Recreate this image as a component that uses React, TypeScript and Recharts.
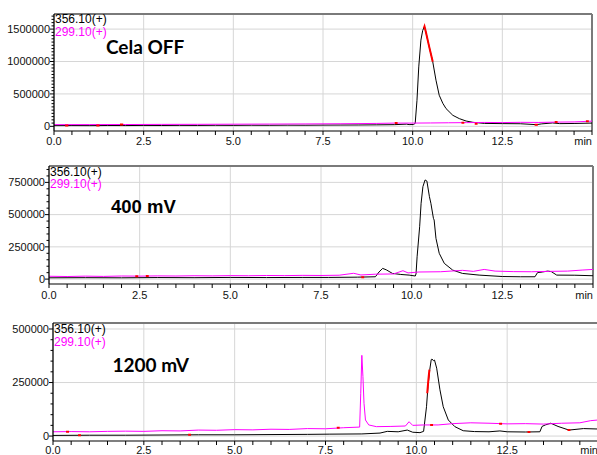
import React from "react";
import { LineChart, Line, XAxis, YAxis, ReferenceLine } from "recharts";

// ---------- Panel 1 (Cela OFF) ----------
const p1BlackT = [0, 0.5, 1, 1.5, 2, 2.5, 3, 3.5, 4, 4.5, 5, 5.5, 6, 6.5, 7, 7.5, 8, 8.5, 9, 9.5, 9.83, 9.9, 10.02, 10.07, 10.12, 10.17, 10.23, 10.28, 10.33, 10.37, 10.46, 10.56, 10.65, 10.74, 10.84, 10.93, 11.12, 11.3, 11.49, 11.68, 12, 12.5, 13, 13.45, 13.6, 13.9, 14.1, 14.5, 15];
const p1BlackV = [11000, 12000, 11000, 13000, 12000, 14000, 13000, 15000, 14000, 16000, 15000, 17000, 16000, 18000, 17000, 19000, 20000, 21000, 23000, 26000, 34000, 27000, 28000, 45000, 400000, 917000, 1330000, 1480000, 1540000, 1450000, 1230000, 995000, 712000, 480000, 356000, 274000, 170000, 119000, 82000, 62000, 45000, 42000, 40000, 26000, 38000, 52000, 42000, 44000, 50000];
const p1MagT = [0, 1, 2, 3, 4, 5, 6, 7, 8, 9, 9.5, 10, 10.5, 11, 11.5, 12, 12.5, 13, 13.5, 14, 14.5, 15];
const p1MagV = [26000, 27000, 28000, 30000, 31000, 33000, 35000, 37000, 40000, 45000, 50000, 50000, 52000, 55000, 57000, 60000, 58000, 62000, 60000, 65000, 68000, 80000];
const p1RedT = [10.31, 10.33, 10.37, 10.46, 10.56, 10.6, 0.31, 0.4, 0.45, 1.18, 1.27, 1.3, 1.84, 1.93, 1.96, 9.5, 9.58, 9.6, 11.36, 11.44, 11.5, 11.73, 11.81, 11.85, 13.4, 13.49, 13.55, 13.96, 14.04, 14.1, 14.83, 14.91];
const p1RedV = [1510000, 1540000, 1450000, 1230000, 995000, null, 11000, 11000, null, 12000, 12000, null, 28000, 28000, null, 50000, 50000, null, 57000, 57000, null, 40000, 40000, null, 26000, 26000, null, 65000, 65000, null, 80000, 80000];

// ---------- Panel 2 (400 mV) ----------
const p2BlackT = [0, 1, 2, 3, 4, 5, 6, 7, 7.7, 8.5, 9.0, 9.1, 9.2, 9.3, 9.47, 9.7, 9.93, 10.1, 10.12, 10.15, 10.22, 10.26, 10.31, 10.37, 10.42, 10.49, 10.53, 10.6, 10.62, 10.67, 10.76, 10.9, 11.13, 11.4, 11.86, 12.5, 13, 13.4, 13.47, 13.6, 13.75, 13.85, 14.0, 14.5, 15];
const p2BlackV = [10000, 11000, 10000, 12000, 11000, 13000, 12000, 13000, 13000, 15000, 18000, 55000, 83000, 72000, 44000, 36000, 31000, 24000, 40000, 173000, 406000, 588000, 717000, 769000, 760000, 639000, 588000, 471000, 458000, 316000, 200000, 122000, 70000, 44000, 31000, 20000, 18000, 18000, 50000, 55000, 62000, 58000, 31000, 30000, 26000];
const p2MagT = [0, 0.5, 1, 1.5, 2, 2.5, 3, 3.5, 4, 4.5, 5, 5.5, 6, 6.5, 7, 7.5, 8, 8.4, 8.6, 9, 9.5, 9.76, 9.9, 10.2, 10.8, 11.4, 11.7, 12.0, 12.3, 12.8, 13.3, 13.8, 14.3, 14.7, 15];
const p2MagV = [22000, 20000, 23000, 21000, 24000, 23000, 25000, 24000, 26000, 25000, 27000, 26000, 28000, 27000, 29000, 28000, 30000, 45000, 32000, 38000, 40000, 65000, 48000, 55000, 57000, 68000, 60000, 75000, 62000, 58000, 57000, 60000, 62000, 70000, 75000];
const p2RedT = [2.38, 2.46, 2.5, 2.67, 2.75, 2.8, 8.61, 8.69];
const p2RedV = [23000, 23000, null, 24000, 24000, null, 15000, 15000];

// ---------- Panel 3 (1200 mV) ----------
const p3BlackT = [0, 1, 2, 3, 4, 5, 6, 7, 7.6, 8.5, 9.0, 9.2, 9.5, 9.75, 9.9, 10.1, 10.2, 10.28, 10.32, 10.37, 10.41, 10.43, 10.47, 10.5, 10.56, 10.65, 10.74, 10.88, 11.06, 11.29, 11.6, 12.0, 12.3, 12.5, 13.0, 13.4, 13.46, 13.55, 13.7, 13.9, 14.2, 14.6, 15];
const p3BlackV = [3000, 4000, 4000, 5000, 6000, 6000, 7000, 8000, 9000, 10000, 14000, 22000, 20000, 28000, 18000, 16000, 22000, 137000, 231000, 310000, 357000, 360000, 352000, 355000, 317000, 216000, 137000, 75000, 44000, 25000, 21000, 20000, 24000, 20000, 19000, 20000, 45000, 52000, 60000, 45000, 28000, 35000, 33000];
const p3MagT = [0, 0.5, 1, 1.5, 2, 2.5, 3, 3.5, 4, 4.5, 5, 5.5, 6, 6.5, 7, 7.5, 8, 8.44, 8.47, 8.5, 8.53, 8.56, 8.6, 8.69, 8.9, 9.3, 9.7, 9.8, 9.9, 10.2, 10.6, 11.0, 11.5, 12.0, 12.5, 13.0, 13.5, 14.0, 14.5, 14.8, 15];
const p3MagV = [20000, 21000, 20000, 22000, 23000, 22000, 25000, 24000, 28000, 27000, 30000, 29000, 32000, 31000, 35000, 34000, 39000, 42000, 200000, 377000, 278000, 153000, 75000, 52000, 44000, 45000, 47000, 67000, 50000, 52000, 52000, 58000, 62000, 60000, 57000, 58000, 56000, 60000, 62000, 72000, 75000];
const p3RedT = [0.36, 0.44, 0.5, 0.69, 0.77, 0.8, 3.72, 3.8, 3.85, 7.81, 7.89, 7.95, 10.3, 10.33, 10.36, 10.4, 10.38, 10.46, 10.5, 12.28, 12.36, 12.4, 13.06, 13.14, 13.2, 14.16, 14.24];
const p3RedV = [20000, 20000, null, 4000, 4000, null, 6000, 6000, null, 39000, 39000, null, 200000, 260000, 310000, null, 52000, 52000, null, 58000, 58000, null, 19000, 19000, null, 28000, 28000];

// ---------- Axis ticks / labels ----------
const xTicks = [0, 0.5, 1, 1.5, 2, 2.5, 3, 3.5, 4, 4.5, 5, 5.5, 6, 6.5, 7, 7.5, 8, 8.5, 9, 9.5, 10, 10.5, 11, 11.5, 12, 12.5, 13, 13.5, 14, 14.5, 15];
const xMajor = [0, 2.5, 5, 7.5, 10, 12.5, 15];
const xMajorLabels = ["0.0", "2.5", "5.0", "7.5", "10.0", "12.5", "min"];

const p1YMajor = [0, 500000, 1000000, 1500000];
const p2YMajor = [0, 250000, 500000, 750000];
const p3YMajor = [0, 250000, 500000];
const p1YMinorTop = 1700000;
const p2YMinorTop = 850000;
const p3YMinorTop = 500000;

const seriesNames = ["356.10(+)", "299.10(+)"];
const panelTitles = ["Cela OFF", "400 mV", "1200 mV"];

const toPts = (t: number[], v: (number | null)[]) => t.map((x, i) => ({ t: x, v: v[i] }));

const minorTicks = (top: number) => {
  const out: number[] = [];
  for (let k = 0; k <= top; k += 50000) out.push(k);
  return out;
};

const FONT = "'Liberation Sans', Arial, sans-serif";

const makeXTick = (labelOff: number) => (props: any) => {
  const { x, y, payload } = props;
  const v = payload.value;
  const idx = xMajor.findIndex((m) => Math.abs(m - v) < 1e-6);
  return (
    <g>
      <line x1={x} y1={y} x2={x} y2={y + 4} stroke="#000" strokeWidth={1} />
      {idx >= 0 && (
        <text
          x={idx === xMajor.length - 1 ? x : x}
          y={y + labelOff}
          dy="0.35em"
          textAnchor={idx === xMajor.length - 1 ? "end" : "middle"}
          fontSize={11}
          fontFamily={FONT}
          fill="#111"
        >
          {xMajorLabels[idx]}
        </text>
      )}
    </g>
  );
};

const makeYTick = (majors: number[]) => (props: any) => {
  const { x, y, payload } = props;
  const v = payload.value;
  const isMajor = majors.includes(v);
  return (
    <g>
      <line x1={x - (isMajor ? 4 : 2.5)} y1={y} x2={x} y2={y} stroke="#000" strokeWidth={1} />
      {isMajor && (
        <text x={x - 4} y={y} dy="0.35em" textAnchor="end" fontSize={11} fontFamily={FONT} fill="#111">
          {String(v)}
        </text>
      )}
    </g>
  );
};

type PanelProps = {
  top: number;
  width: number;
  height: number;
  marginTop: number;
  marginRight: number;
  yWidth: number;
  xHeight: number;
  domain: [number, number];
  yMajor: number[];
  yMinorTop: number;
  labelOff: number;
  black: { t: number; v: number | null }[];
  mag: { t: number; v: number | null }[];
  red: { t: number; v: number | null }[];
};

const Panel = (p: PanelProps) => (
  <div style={{ position: "absolute", left: 0, top: p.top }}>
    <LineChart
      width={p.width}
      height={p.height}
      margin={{ top: p.marginTop, right: p.marginRight, left: 0, bottom: 0 }}
    >
      <XAxis
        type="number"
        dataKey="t"
        domain={[0, 15]}
        ticks={xTicks}
        interval={0}
        height={p.xHeight}
        tickSize={0}
        tickMargin={0}
        tickLine={false}
        axisLine={{ stroke: "#000", strokeWidth: 1.2 }}
        tick={makeXTick(p.labelOff)}
        allowDataOverflow
      />
      <YAxis
        type="number"
        domain={p.domain}
        ticks={minorTicks(p.yMinorTop)}
        interval={0}
        width={p.yWidth}
        tickSize={0}
        tickMargin={0}
        tickLine={false}
        axisLine={{ stroke: "#000", strokeWidth: 1.3 }}
        tick={makeYTick(p.yMajor)}
        allowDataOverflow
      />
      {xMajor.slice(1, -1).map((x) => (
        <ReferenceLine key={"gx" + x} x={x} stroke="#d6d6d6" strokeWidth={1} />
      ))}
      {p.yMajor.map((y) => (
        <ReferenceLine key={"gy" + y} y={y} stroke="#d6d6d6" strokeWidth={1} />
      ))}
      <ReferenceLine y={p.domain[1]} stroke="#7a7a7a" strokeWidth={2} />
      <ReferenceLine x={15} stroke="#7a7a7a" strokeWidth={2} />
      <Line
        data={p.black}
        dataKey="v"
        type="linear"
        stroke="#000"
        strokeWidth={1}
        dot={false}
        isAnimationActive={false}
      />
      <Line
        data={p.mag}
        dataKey="v"
        type="linear"
        stroke="#ff00ff"
        strokeWidth={1}
        dot={false}
        isAnimationActive={false}
      />
      <Line
        data={p.red}
        dataKey="v"
        type="linear"
        stroke="#ff0000"
        strokeWidth={2}
        dot={false}
        connectNulls={false}
        isAnimationActive={false}
      />
    </LineChart>
  </div>
);

const txt = (
  s: string,
  left: number,
  top: number,
  size: number,
  color: string,
  family: string,
  bold = false
) => (
  <div
    style={{
      position: "absolute",
      left,
      top,
      fontSize: size,
      lineHeight: 1,
      color,
      fontFamily: family,
      fontWeight: bold ? 700 : 400,
      whiteSpace: "nowrap",
    }}
  >
    {s}
  </div>
);

export default function App() {
  return (
    <div
      style={{
        position: "absolute",
        left: 0,
        top: 0,
        width: 597,
        height: 455,
        overflow: "hidden",
        background: "#fff",
      }}
    >
      <Panel
        top={0}
        width={597}
        height={155}
        marginTop={14}
        marginRight={5}
        yWidth={54}
        xHeight={24}
        domain={[-72000, 1733000]}
        yMajor={p1YMajor}
        yMinorTop={p1YMinorTop}
        labelOff={10.5}
        black={toPts(p1BlackT, p1BlackV)}
        mag={toPts(p1MagT, p1MagV)}
        red={toPts(p1RedT, p1RedV)}
      />
      <Panel
        top={150}
        width={597}
        height={155}
        marginTop={16}
        marginRight={4}
        yWidth={49}
        xHeight={21}
        domain={[-38000, 877000]}
        yMajor={p2YMajor}
        yMinorTop={p2YMinorTop}
        labelOff={11}
        black={toPts(p2BlackT, p2BlackV)}
        mag={toPts(p2MagT, p2MagV)}
        red={toPts(p2RedT, p2RedV)}
      />
      <Panel
        top={305}
        width={600}
        height={150}
        marginTop={18}
        marginRight={2}
        yWidth={53}
        xHeight={14}
        domain={[-23000, 528000]}
        yMajor={p3YMajor}
        yMinorTop={p3YMinorTop}
        labelOff={9}
        black={toPts(p3BlackT, p3BlackV)}
        mag={toPts(p3MagT, p3MagV)}
        red={toPts(p3RedT, p3RedV)}
      />
      {txt(seriesNames[0], 55, 13, 12, "#000", FONT)}
      {txt(seriesNames[1], 55, 25.7, 12, "#ff00ff", FONT)}
      {txt(seriesNames[0], 50, 165.7, 12, "#000", FONT)}
      {txt(seriesNames[1], 50, 178.3, 12, "#ff00ff", FONT)}
      {txt(seriesNames[0], 54, 323, 12, "#000", FONT)}
      {txt(seriesNames[1], 54, 335.7, 12, "#ff00ff", FONT)}
      {txt(panelTitles[0], 106, 36.7, 19, "#000", "Lato, 'Open Sans', sans-serif", true)}
      {txt(panelTitles[1], 111, 197.6, 18.5, "#000", FONT, true)}
      {txt(panelTitles[2], 112.5, 355, 19, "#000", "Lato, 'Open Sans', sans-serif", true)}
    </div>
  );
}
